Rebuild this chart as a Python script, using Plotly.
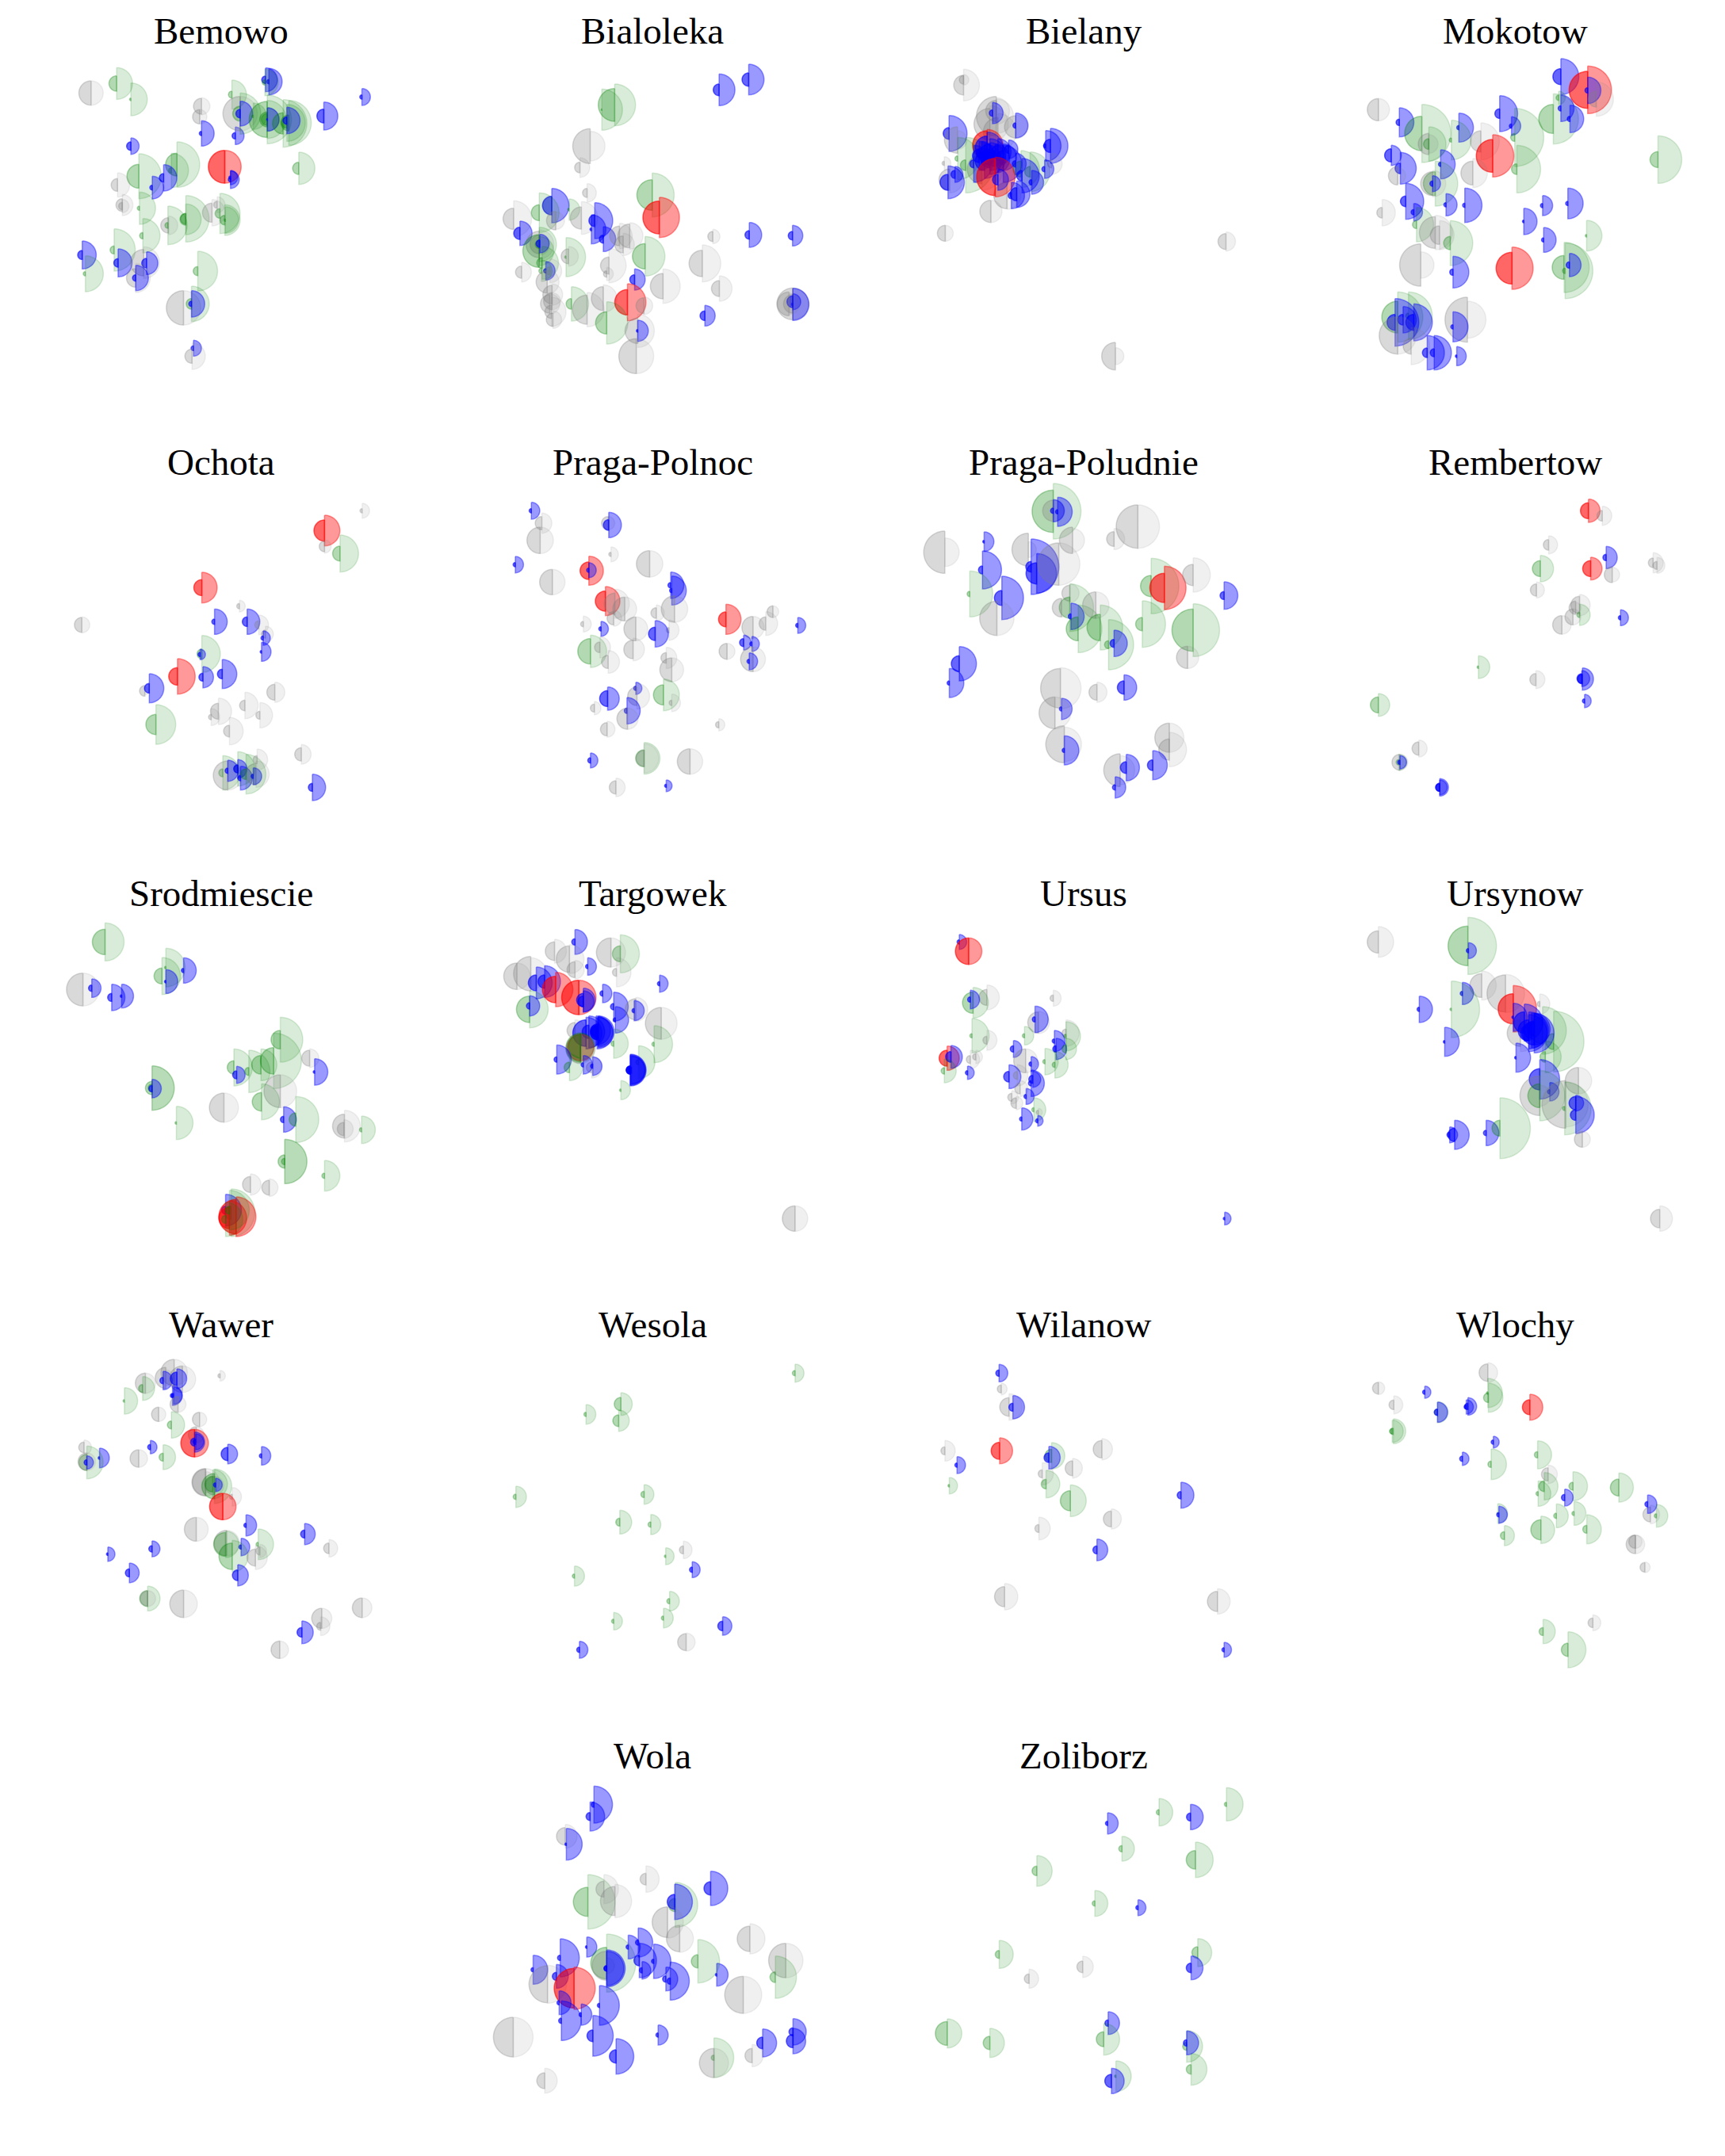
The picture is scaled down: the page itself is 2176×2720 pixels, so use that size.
import numpy as np
import plotly.graph_objects as go
from plotly.subplots import make_subplots

# each row: easting, northing, left radius, right radius, category (per panel map units)
BEMOWO = [
    (320,352,46,46,"n"),(410,316,29,60,"g"),(460,376,5,62,"g"),(933,302,14,45,"b"),(945,309,8,50,"b"),
    (931,312,10,50,"g"),(1272,367,8,32,"b"),(1138,439,26,53,"b"),(815,358,13,55,"g"),(708,402,30,32,"n"),
    (702,442,27,27,"n"),(708,505,8,48,"b"),(827,514,12,33,"b"),(844,430,65,65,"n"),(844,430,28,78,"g"),
    (844,430,16,47,"b"),(890,440,5,50,"g"),(939,452,68,92,"g"),(939,452,28,45,"g"),(939,452,22,72,"g"),
    (940,452,3,44,"b"),(995,467,40,90,"g"),(1015,465,30,85,"g"),(1008,465,20,70,"g"),(1008,456,14,50,"b"),
    (790,631,62,62,"r"),(810,680,8,33,"b"),(810,672,6,27,"b"),
    (1050,637,23,61,"g"),(460,553,16,31,"b"),(622,623,43,86,"g"),(602,645,10,65,"g"),(488,667,45,85,"g"),
    (575,673,16,50,"b"),(535,710,9,43,"b"),(413,700,24,46,"n"),(490,788,8,61,"g"),(430,776,24,40,"n"),
    (430,780,14,25,"n"),(592,853,29,35,"n"),(590,853,11,73,"g"),(653,828,20,88,"g"),(653,830,22,58,"g"),
    (745,805,36,50,"n"),(763,775,13,30,"n"),(773,808,18,76,"g"),(790,833,18,58,"g"),(792,833,5,50,"g"),
    (502,892,12,65,"g"),(401,946,15,80,"g"),(289,965,17,53,"b"),(300,1036,8,68,"g"),(415,995,16,53,"b"),
    (505,994,50,60,"n"),(515,996,18,43,"b"),(477,1052,35,55,"n"),(477,1052,12,48,"b"),(695,1026,17,75,"g"),
    (645,1165,65,65,"n"),(673,1150,20,67,"g"),(673,1150,10,50,"b"),(680,1318,9,30,"b"),(675,1348,27,50,"n"),
]
BIALOLEKA = [
    (600,397,62,79,"g"),(555,415,3,78,"g"),(967,340,22,60,"b"),(1071,301,25,58,"b"),(514,553,66,56,"n"),
    (478,634,20,37,"n"),(503,730,17,35,"n"),(732,738,58,83,"g"),(757,823,62,76,"r"),(945,895,19,27,"n"),
    (1073,889,16,47,"b"),(1225,892,16,39,"b"),(908,997,50,70,"n"),(968,1092,30,48,"n"),(917,1195,18,39,"b"),
    (1226,1150,60,60,"n"),(1226,1150,35,60,"n"),(1226,1152,5,61,"b"),(1226,1142,22,30,"b"),(1213,1150,45,40,"n"),
    (379,778,35,65,"b"),(335,805,30,75,"g"),(245,828,40,68,"n"),(440,793,5,40,"g"),(483,825,42,62,"n"),
    (393,835,35,33,"n"),(530,835,22,68,"b"),(518,868,5,55,"b"),(560,905,15,47,"b"),(267,883,23,46,"b"),
    (617,893,37,48,"n"),(653,893,45,50,"n"),(630,925,32,42,"n"),(707,970,48,75,"g"),(429,973,5,74,"g"),
    (438,970,28,37,"n"),(335,925,50,55,"n"),(335,925,35,40,"n"),(335,950,62,55,"g"),(335,925,15,65,"g"),
    (337,922,14,35,"b"),(345,995,20,62,"g"),(580,1005,32,65,"n"),(572,1037,12,25,"n"),(358,1025,8,35,"b"),
    (372,1025,15,45,"n"),(343,1025,10,40,"g"),(273,1030,23,37,"n"),(670,1058,18,40,"b"),(770,1083,48,65,"n"),
    (363,1067,42,45,"n"),(380,1115,35,40,"n"),(380,1140,32,32,"n"),(372,1150,35,38,"n"),(378,1180,25,55,"n"),
    (383,1210,25,33,"n"),(448,1150,20,65,"g"),(503,1172,55,65,"n"),(560,1130,45,52,"n"),(645,1144,48,70,"r"),
    (703,1157,30,33,"n"),(572,1222,42,80,"g"),(681,1252,48,63,"n"),(681,1252,5,40,"b"),(676,1348,66,66,"n"),
]
BIELANY = [
    (141,322,37,60,"n"),(141,302,16,20,"n"),(202,440,75,65,"n"),(202,420,40,50,"n"),(190,470,60,70,"n"),
    (205,500,55,70,"n"),(195,428,12,40,"b"),(238,480,42,45,"n"),(238,475,10,47,"b"),(114,505,22,68,"b"),
    (130,530,50,35,"n"),(303,552,25,66,"b"),(294,552,8,58,"b"),(185,550,55,60,"r"),(175,640,55,80,"n"),
    (145,625,20,105,"g"),(130,600,10,80,"g"),(185,560,45,60,"b"),(190,585,40,60,"b"),(175,580,20,45,"b"),
    (205,575,25,50,"b"),(225,565,15,35,"b"),(190,600,35,60,"b"),(180,610,35,65,"b"),(200,600,30,55,"b"),
    (170,590,25,55,"b"),(215,595,25,50,"b"),(115,680,40,50,"n"),(112,690,30,62,"b"),(125,660,15,30,"b"),
    (105,618,8,25,"n"),(160,620,15,70,"b"),(215,620,25,70,"b"),(248,640,30,70,"g"),(265,650,20,75,"g"),
    (222,740,50,52,"n"),(238,620,12,40,"b"),(250,665,20,65,"b"),(200,670,70,75,"r"),(205,680,20,40,"b"),
    (268,690,10,45,"b"),(240,735,25,50,"b"),(230,740,12,50,"b"),(305,620,15,40,"n"),(292,640,10,35,"b"),
    (192,800,42,42,"n"),(107,883,30,30,"n"),(630,914,30,36,"n"),(424,1348,52,32,"n"),
]
MOKOTOW = [
    (1254,290,30,68,"b"),(1304,340,70,90,"r"),(1304,342,10,50,"b"),(1320,375,30,65,"n"),(914,415,42,42,"n"),
    (953,463,12,55,"b"),(995,505,65,110,"g"),(1064,483,8,55,"b"),(1050,530,8,75,"g"),(1008,545,40,35,"n"),
    (1008,545,20,65,"g"),(1140,430,18,68,"b"),(1162,477,8,35,"b"),(1168,520,15,110,"g"),(1172,640,20,90,"g"),
    (1240,450,55,95,"g"),(1250,370,10,25,"g"),(1254,410,10,50,"b"),(1271,450,10,52,"b"),(1105,535,40,70,"n"),
    (1127,590,62,80,"r"),(1435,604,30,90,"g"),(938,588,25,38,"b"),(955,637,20,60,"b"),(1030,622,8,55,"b"),
    (950,665,35,30,"n"),(1090,655,45,55,"n"),(1020,695,45,85,"g"),(1015,695,45,50,"n"),(1015,695,10,30,"b"),
    (965,762,20,68,"b"),(980,803,10,33,"b"),(1040,775,8,42,"b"),(1075,777,8,65,"b"),(1220,778,8,38,"b"),
    (1267,770,8,58,"b"),(1185,838,5,50,"b"),(1222,908,8,47,"b"),(1302,892,5,58,"g"),(921,805,20,50,"n"),
    (985,850,15,65,"g"),(1020,880,60,65,"n"),(1028,890,35,55,"n"),(1048,920,25,85,"g"),(993,1003,80,50,"n"),
    (1053,1030,12,60,"b"),(1163,1015,60,80,"r"),(1260,1012,45,95,"g"),(1262,1025,10,105,"g"),(1270,1003,12,44,"b"),
    (950,1200,60,95,"g"),(970,1195,10,90,"g"),(945,1220,30,90,"b"),(980,1220,30,70,"b"),(960,1210,20,50,"b"),
    (950,1270,70,70,"n"),(975,1310,30,70,"n"),(1080,1210,85,70,"n"),(1053,1237,8,57,"b"),(1005,1335,18,65,"b"),
    (1018,1335,15,65,"b"),(1060,1348,5,36,"b"),
]
OCHOTA = [
    (655,313,8,28,"n"),(587,388,40,58,"r"),(587,448,20,25,"n"),(615,475,28,70,"g"),(365,604,30,58,"r"),
    (433,674,10,22,"n"),(388,733,10,48,"b"),(447,733,18,48,"b"),(468,745,15,37,"n"),(480,780,15,30,"n"),
    (476,795,8,27,"b"),(473,847,5,36,"b"),(148,745,28,30,"n"),(365,855,18,70,"g"),(362,857,8,20,"b"),
    (321,940,33,67,"r"),(367,943,15,40,"b"),(402,931,18,55,"b"),(262,995,20,15,"n"),(270,985,18,55,"b"),
    (497,1000,30,38,"n"),(443,1050,20,50,"n"),(470,1087,15,48,"n"),(395,1072,30,50,"n"),(382,1094,10,32,"n"),
    (415,1147,22,52,"n"),(282,1122,38,75,"g"),(545,1235,25,37,"n"),(403,1305,15,65,"g"),(412,1315,55,55,"n"),
    (430,1290,15,65,"g"),(430,1290,15,35,"b"),(412,1297,10,40,"b"),(435,1325,10,45,"b"),(463,1310,40,50,"n"),
    (458,1318,8,32,"b"),(445,1310,20,75,"g"),(465,1255,15,40,"n"),(565,1360,15,50,"b"),
]
PRAGA_POLNOC = [
    (961,313,8,32,"b"),(980,360,25,38,"n"),(977,425,50,50,"n"),(1100,360,25,25,"n"),(1101,367,20,48,"b"),
    (1105,478,8,28,"n"),(932,517,8,31,"b"),(1175,514,50,50,"n"),(999,583,48,48,"n"),(1065,540,33,55,"r"),
    (1065,538,8,28,"b"),(1095,655,38,55,"r"),(1112,665,40,55,"n"),(1130,685,45,45,"n"),(1213,595,10,50,"b"),
    (1215,615,8,55,"b"),(1220,685,50,50,"n"),(1187,700,20,30,"n"),(1110,720,25,30,"n"),(1055,742,10,30,"n"),
    (1087,760,8,28,"b"),(1150,760,45,45,"n"),(1210,765,10,38,"n"),(1185,779,25,50,"b"),(1313,724,28,57,"r"),
    (1362,755,42,42,"n"),(1385,740,25,45,"n"),(1398,695,22,22,"n"),(1443,747,8,30,"b"),(1345,812,15,28,"b"),
    (1360,817,8,28,"b"),(1315,845,30,30,"n"),(1362,875,47,47,"n"),(1355,883,8,32,"b"),(1068,845,48,61,"g"),
    (1085,830,20,40,"n"),(1100,885,25,43,"n"),(1145,838,35,43,"n"),(1205,870,20,40,"n"),(1215,915,45,45,"n"),
    (1099,1024,30,44,"b"),(1150,985,8,23,"b"),(1152,1015,35,48,"n"),(1200,1010,38,60,"g"),(1215,1040,10,33,"n"),
    (1134,1070,10,50,"b"),(1135,1100,40,40,"n"),(1075,1060,15,25,"n"),(1098,1140,25,30,"n"),(1300,1123,12,23,"n"),
    (1068,1258,10,28,"b"),(1165,1250,32,60,"g"),(1165,1250,30,55,"n"),(1248,1262,48,48,"n"),(1114,1360,25,35,"n"),
    (1205,1354,6,22,"b"),
]
PRAGA_POLUDNIE = [
    (345,315,80,105,"g"),(345,313,40,40,"n"),(345,313,10,42,"b"),(353,317,8,55,"b"),(149,470,80,54,"n"),
    (498,373,82,82,"n"),(380,425,50,45,"n"),(455,420,28,40,"n"),(220,430,5,37,"b"),(217,537,15,72,"b"),
    (300,460,62,30,"n"),(305,525,20,105,"b"),(315,550,40,75,"b"),(355,515,80,80,"n"),(194,628,10,87,"g"),
    (252,643,28,82,"b"),(243,720,65,65,"n"),(375,625,30,35,"n"),(375,680,40,90,"g"),(377,713,10,50,"b"),
    (390,760,45,90,"g"),(360,680,35,35,"n"),(422,670,50,50,"n"),(430,755,50,85,"g"),(445,820,15,95,"g"),
    (455,815,15,50,"b"),(522,598,40,105,"g"),(546,605,55,82,"r"),(598,556,40,65,"n"),(506,742,25,88,"g"),
    (598,765,80,100,"g"),(588,868,42,42,"n"),(654,634,15,52,"b"),(175,892,30,65,"b"),(157,965,8,55,"b"),
    (358,985,75,78,"n"),(424,1000,30,38,"n"),(473,982,25,48,"b"),(360,1063,8,40,"b"),(348,1078,60,60,"n"),
    (365,1197,70,65,"n"),(365,1220,8,55,"b"),(555,1172,55,55,"n"),(555,1217,40,65,"n"),(466,1295,62,55,"n"),
    (477,1285,22,50,"b"),(525,1276,20,55,"b"),(457,1360,10,40,"b"),
]
REMBERTOW = [
    (1313,313,30,44,"r"),(1338,332,20,36,"n"),(1241,442,20,34,"n"),(1345,490,12,42,"b"),(1430,510,18,38,"n"),
    (1437,520,15,30,"n"),(1226,532,30,50,"g"),(1317,532,30,43,"r"),(1356,555,30,28,"n"),(1219,613,23,30,"n"),
    (1297,670,33,40,"n"),(1290,680,25,20,"n"),(1297,707,10,40,"g"),(1285,715,30,30,"n"),(1265,745,35,35,"n"),
    (1371,718,8,30,"b"),(1114,905,5,43,"g"),(1218,952,23,34,"n"),(1302,950,18,42,"b"),(1301,948,18,30,"b"),
    (1306,1033,8,25,"b"),(933,1048,30,43,"g"),(1006,1213,25,32,"n"),(972,1265,30,30,"n"),(970,1265,10,30,"g"),
    (972,1265,8,25,"b"),(1044,1360,15,33,"b"),(1044,1360,15,28,"b"),
]
SRODMIESCIE = [
    (190,295,48,72,"g"),(300,392,5,73,"g"),(293,424,30,70,"g"),(300,445,5,45,"b"),(332,403,8,48,"b"),
    (150,475,62,62,"n"),(166,470,12,35,"b"),(202,505,15,50,"b"),(220,500,5,45,"b"),(275,848,25,84,"g"),
    (275,848,15,84,"g"),(275,850,12,35,"b"),(319,980,5,63,"g"),(405,922,55,55,"n"),(423,770,25,70,"g"),
    (428,798,15,32,"b"),(450,785,15,80,"g"),(472,760,35,60,"g"),(507,665,35,85,"g"),(495,745,50,105,"g"),
    (507,860,62,62,"n"),(560,735,30,35,"n"),(569,787,5,50,"b"),(473,900,35,68,"g"),(513,967,12,48,"b"),
    (535,967,25,87,"g"),(623,992,45,60,"n"),(622,1003,25,35,"n"),(654,1006,8,52,"g"),(515,1126,25,84,"g"),
    (515,1126,12,84,"g"),(587,1180,10,58,"g"),(453,1213,30,40,"n"),(487,1225,28,33,"n"),(418,1320,25,90,"g"),
    (408,1310,15,60,"b"),(427,1335,65,75,"r"),(415,1340,40,65,"r"),(408,1345,15,65,"g"),(415,1310,15,75,"g"),
]
TARGOWEK = [
    (1040,295,12,47,"b"),(1003,330,35,45,"n"),(1030,360,50,55,"n"),(1122,340,30,72,"g"),(1105,335,55,55,"n"),
    (1115,410,15,55,"n"),(935,425,50,50,"n"),(960,415,65,60,"n"),(985,445,25,60,"b"),(970,450,30,60,"b"),
    (1040,400,30,35,"n"),(1063,388,8,33,"b"),(1005,475,50,65,"r"),(1047,505,65,65,"r"),(1055,515,25,45,"b"),
    (1055,520,20,40,"b"),(1090,490,10,35,"b"),(1110,540,12,55,"b"),(1113,590,8,50,"b"),(1150,550,40,45,"n"),
    (1147,555,8,38,"b"),(1193,453,8,32,"b"),(1196,603,60,60,"n"),(1183,682,8,70,"g"),(958,550,50,70,"g"),
    (958,537,12,38,"b"),(1110,680,10,55,"g"),(1040,630,30,40,"n"),(1065,635,25,60,"b"),(1060,640,50,60,"b"),
    (1082,635,25,55,"b"),(1082,635,30,60,"b"),(1080,640,25,60,"b"),(1078,630,20,55,"b"),(1050,695,50,50,"r"),
    (1050,700,55,55,"n"),(1050,695,55,55,"g"),(1050,690,45,50,"g"),(1007,740,10,55,"b"),(1030,770,20,50,"g"),
    (1070,770,20,40,"n"),(1055,760,8,35,"b"),(1072,765,8,35,"b"),(1155,750,10,62,"g"),(1140,780,15,60,"b"),
    (1140,780,15,55,"b"),(1140,780,15,58,"b"),(1142,780,12,52,"b"),(1123,856,5,36,"g"),(1438,1342,48,48,"n"),
]
URSUS = [
    (175,295,8,28,"b"),(192,330,50,50,"r"),(225,505,30,47,"n"),(200,525,40,58,"g"),(195,513,10,35,"b"),
    (345,508,12,30,"n"),(318,600,40,42,"n"),(312,588,10,50,"b"),(198,650,8,65,"g"),(225,667,15,38,"n"),
    (293,650,8,35,"g"),(368,640,15,50,"n"),(347,670,8,40,"b"),(368,652,8,55,"g"),(350,700,12,40,"b"),
    (368,700,15,40,"g"),(273,700,12,32,"b"),(330,748,8,50,"g"),(348,760,10,50,"g"),(295,745,45,45,"n"),
    (305,757,8,28,"b"),(153,735,30,46,"r"),(160,730,20,43,"b"),(195,740,15,35,"n"),(205,730,12,25,"n"),
    (148,783,12,45,"g"),(190,790,8,25,"b"),(265,805,20,45,"b"),(280,800,15,40,"n"),(305,830,10,50,"b"),
    (308,815,15,30,"b"),(285,850,20,30,"n"),(296,880,8,30,"b"),(270,883,15,25,"n"),(278,905,20,25,"n"),
    (310,930,8,45,"g"),(318,940,8,15,"n"),(288,965,8,42,"b"),(317,972,8,20,"b"),(655,1342,5,24,"b"),
]
URSYNOW = [
    (933,295,42,58,"n"),(1095,310,75,108,"g"),(1096,328,8,30,"b"),(1120,460,45,55,"n"),(1163,490,70,72,"n"),
    (1085,490,8,42,"b"),(1007,550,8,50,"b"),(1065,550,5,107,"g"),(1177,548,57,88,"r"),(1053,673,5,55,"b"),
    (1225,530,10,38,"n"),(1190,640,50,70,"n"),(1230,630,50,90,"g"),(1250,672,30,115,"g"),(1235,730,20,60,"g"),
    (1177,580,5,53,"b"),(1197,600,40,70,"b"),(1205,630,40,70,"b"),(1215,640,45,75,"b"),(1210,630,30,65,"b"),
    (1215,625,25,60,"b"),(1205,640,30,70,"b"),(1182,733,5,55,"b"),
    (1225,815,40,75,"b"),(1295,820,50,50,"n"),(1243,862,8,35,"b"),(1225,877,75,40,"n"),(1225,877,45,95,"g"),
    (1272,910,90,85,"n"),(1270,925,8,100,"g"),(1290,905,25,30,"b"),(1290,950,20,70,"b"),(1302,1042,30,30,"n"),
    (1071,1025,25,55,"b"),(1062,1025,10,30,"b"),(1128,1018,10,48,"b"),(1153,1000,30,115,"g"),(1442,1342,35,48,"n"),
]
WAWER = [
    (315,275,50,50,"n"),(300,295,40,30,"n"),(295,305,12,35,"b"),(330,300,50,50,"n"),(320,298,25,37,"b"),
    (263,315,38,38,"n"),(258,335,15,45,"g"),(225,382,5,50,"g"),(312,362,8,37,"b"),(314,362,8,32,"b"),
    (322,395,30,30,"n"),(287,433,27,27,"n"),(361,452,27,27,"n"),(310,473,15,50,"g"),(398,287,8,20,"n"),
    (152,558,20,28,"n"),(272,557,10,25,"b"),(355,510,30,30,"n"),(352,542,52,52,"r"),(352,538,15,38,"b"),
    (354,537,10,30,"b"),(180,598,5,37,"b"),(251,600,33,33,"n"),(295,595,15,47,"g"),(412,583,25,37,"b"),
    (473,590,8,35,"b"),(157,615,30,62,"g"),(157,612,33,33,"n"),(157,615,10,25,"b"),(372,690,52,52,"n"),
    (372,690,50,40,"n"),(388,703,35,35,"n"),(388,705,48,65,"g"),(385,697,30,55,"g"),(390,700,8,25,"b"),
    (420,745,10,35,"n"),(403,782,50,50,"r"),(355,868,45,45,"n"),(445,853,8,40,"b"),(551,886,15,40,"b"),
    (595,940,20,33,"n"),(436,935,8,33,"b"),(467,925,8,58,"g"),(410,920,48,48,"n"),(408,925,45,50,"g"),
    (420,970,50,60,"g"),(462,975,32,45,"n"),(470,950,15,25,"n"),(195,962,5,27,"b"),(275,942,12,30,"b"),
    (234,1033,15,37,"b"),(430,1042,20,40,"b"),(267,1130,30,47,"g"),(267,1130,28,30,"n"),(332,1150,52,52,"n"),
    (655,1165,37,37,"n"),(582,1205,38,38,"n"),(580,1235,15,35,"n"),(546,1258,18,43,"b"),(506,1324,33,33,"n"),
]
WESOLA = [
    (1438,277,10,34,"g"),(1123,394,25,43,"g"),(1060,433,8,37,"g"),(1119,457,22,40,"g"),(933,745,10,40,"g"),
    (1165,736,12,37,"g"),(1121,841,15,45,"g"),(1177,850,10,38,"g"),(1236,946,15,33,"n"),(1204,970,5,32,"g"),
    (1252,1021,10,30,"b"),(1039,1045,8,38,"g"),(1211,1140,10,37,"g"),(1110,1216,8,33,"g"),(1200,1204,8,37,"g"),
    (1307,1234,18,35,"b"),(1241,1295,32,34,"n"),(1048,1324,10,32,"b"),
]
WILANOW = [
    (247,277,12,33,"b"),(251,337,15,22,"n"),(265,405,35,50,"n"),(272,406,15,44,"b"),(248,571,32,49,"r"),
    (149,571,15,39,"n"),(171,625,8,32,"b"),(157,703,5,31,"g"),(342,590,25,50,"g"),(337,597,18,43,"b"),
    (433,565,33,40,"n"),(380,637,28,37,"n"),(325,658,15,42,"n"),(332,697,18,52,"g"),(376,760,38,60,"g"),
    (576,739,14,49,"b"),(450,829,30,38,"n"),(319,865,15,43,"n"),(424,946,15,41,"b"),(257,1123,38,50,"n"),
    (642,1141,38,48,"n"),(654,1324,8,28,"b"),
]
WLOCHY = [
    (1131,275,33,37,"n"),(933,334,22,24,"n"),(1017,349,8,23,"b"),(961,397,18,34,"n"),(1040,425,12,40,"g"),
    (1040,425,12,38,"b"),(1095,403,12,33,"b"),(1092,405,8,27,"b"),(1131,352,5,55,"g"),(1132,370,18,55,"g"),
    (1207,406,28,49,"r"),(960,497,12,47,"g"),(958,497,10,42,"g"),(1141,538,8,22,"b"),(1085,601,10,25,"b"),
    (1137,622,12,58,"g"),(1221,586,12,53,"g"),(1240,660,25,35,"n"),(1233,705,20,52,"g"),(1222,733,8,48,"g"),
    (1285,705,15,55,"g"),(1368,710,32,55,"g"),(1270,748,12,32,"b"),(1287,808,8,45,"g"),(1255,817,10,45,"g"),
    (1149,808,3,37,"g"),(1151,813,8,32,"b"),(1227,870,38,52,"g"),(1161,892,15,38,"g"),(1310,868,15,55,"g"),
    (1425,812,28,35,"n"),(1420,773,10,35,"b"),(1436,817,8,43,"g"),(1398,925,35,35,"n"),(1398,915,25,25,"n"),
    (1415,1012,18,20,"n"),(1321,1222,18,30,"n"),(1231,1255,15,46,"g"),(1276,1324,25,68,"g"),
]
WOLA = [
    (300,290,10,70,"b"),(293,335,15,55,"b"),(248,410,33,45,"n"),(250,440,5,60,"b"),(289,658,55,103,"g"),
    (318,610,30,55,"n"),(338,655,55,63,"n"),(394,572,22,50,"n"),(511,607,25,65,"b"),(447,670,25,85,"g"),
    (446,658,28,67,"b"),(433,735,58,60,"n"),(455,797,50,52,"n"),(582,798,48,57,"n"),(287,829,5,38,"b"),
    (323,890,60,110,"g"),(323,900,55,30,"n"),(323,910,10,70,"b"),(323,910,10,65,"b"),(239,870,10,72,"b"),
    (190,915,8,55,"b"),(362,829,8,45,"b"),(380,812,10,55,"b"),(382,880,20,65,"b"),(408,883,8,65,"b"),
    (387,917,10,33,"b"),(522,934,5,43,"b"),(430,950,12,45,"b"),(438,958,12,72,"b"),(488,883,25,82,"g"),
    (647,880,65,65,"n"),(628,943,20,80,"g"),(570,1010,70,70,"n"),(216,970,70,72,"n"),(232,940,15,45,"b"),
    (264,985,75,80,"r"),(237,1040,8,45,"b"),(310,1050,8,75,"b"),(277,1085,8,40,"b"),(241,1108,10,75,"b"),
    (298,1165,22,77,"b"),(340,1243,25,67,"b"),(416,1162,8,38,"b"),(154,1170,75,75,"n"),(605,1192,22,53,"b"),
    (660,1150,15,50,"b"),(660,1185,25,48,"b"),(517,1248,10,75,"g"),(517,1268,55,55,"n"),(586,1240,27,42,"n"),
    (211,1335,30,47,"n"),
]
ZOLIBORZ = [
    (1229,361,8,40,"b"),(1322,319,10,52,"g"),(1379,337,15,48,"b"),(1444,289,8,63,"g"),(1255,457,12,47,"g"),
    (1388,499,35,67,"g"),(1101,541,18,58,"g"),(1206,664,10,49,"g"),(1284,680,8,30,"b"),(1033,857,15,53,"g"),
    (1392,850,22,53,"g"),(1184,904,22,40,"n"),(1380,908,18,45,"b"),(1087,949,18,36,"n"),(939,1156,45,55,"g"),
    (1016,1192,25,55,"g"),(1230,1117,12,43,"b"),(1222,1178,28,60,"g"),(1372,1205,15,60,"g"),(1372,1192,12,45,"b"),
    (1380,1292,18,60,"g"),(1244,1318,5,58,"g"),(1236,1336,25,48,"b"),
]

DISTRICTS = ["Bemowo", "Bialoleka", "Bielany", "Mokotow", "Ochota", "Praga-Polnoc", "Praga-Poludnie", "Rembertow",
             "Srodmiescie", "Targowek", "Ursus", "Ursynow", "Wawer", "Wesola", "Wilanow", "Wlochy", "Wola", "Zoliborz"]
POINTS = [BEMOWO, BIALOLEKA, BIELANY, MOKOTOW, OCHOTA, PRAGA_POLNOC, PRAGA_POLUDNIE, REMBERTOW,
          SRODMIESCIE, TARGOWEK, URSUS, URSYNOW, WAWER, WESOLA, WILANOW, WLOCHY, WOLA, ZOLIBORZ]
ROWS = [1, 1, 1, 1, 2, 2, 2, 2, 3, 3, 3, 3, 4, 4, 4, 4, 5, 5]
COLS = [1, 2, 3, 4, 1, 2, 3, 4, 1, 2, 3, 4, 1, 2, 3, 4, 2, 3]
X_START = [0, -44.6, -47.3, 756.3, 0, 780, 0, 780, 0, 780, 0, 780, 0, 780, 0, 780, 5.7, 785.7]
X_SPAN = [1515.6, 1515.6, 803.6, 803.6] + [780] * 14
Y_START = [0, 0, 0, 0, 12, 12, 12, 12, -6, -6, -6, -6, -24, -24, -24, -24, -12, -12]
Y_SPAN = 1632
CELL = 544
BODY_MARGIN = 8  # the page puts the figure 8px in from the corner

RGB = {"r": "255,0,0", "b": "0,0,255", "g": "0,128,0", "n": "128,128,128"}
LEFT_ALPHA = {"r": 0.6, "b": 0.6, "g": 0.3, "n": 0.3}
RIGHT_ALPHA = {"r": 0.4, "b": 0.4, "g": 0.15, "n": 0.12}
ANGLES = np.linspace(-np.pi / 2, np.pi / 2, 41)


def half_disc(x, y, r, side, xscale):
    xs = x + side * r * xscale * np.cos(ANGLES)
    ys = y + r * np.sin(ANGLES)
    return np.append(xs, xs[0]), np.append(ys, ys[0])


fig = make_subplots(
    rows=5, cols=4,
    specs=[[{}, {}, {}, {}]] * 4 + [[None, {}, {}, None]],
    horizontal_spacing=0, vertical_spacing=0,
)

for i, name in enumerate(DISTRICTS):
    row, col = ROWS[i], COLS[i]
    xscale = X_SPAN[i] / Y_SPAN
    x0 = X_START[i] + BODY_MARGIN * X_SPAN[i] / CELL
    y0 = Y_START[i] + BODY_MARGIN * Y_SPAN / CELL
    for x, y, rl, rr, c in POINTS[i]:
        for side, r, alpha in ((-1, rl, LEFT_ALPHA[c]), (1, rr, RIGHT_ALPHA[c])):
            xs, ys = half_disc(x, y, r, side, xscale)
            color = "rgba(%s,%s)" % (RGB[c], alpha)
            fig.add_trace(go.Scatter(
                x=xs, y=ys, mode="lines", fill="toself", fillcolor=color,
                line=dict(color=color, width=1.5, simplify=False), hoverinfo="skip", showlegend=False,
            ), row=row, col=col)
    fig.update_xaxes(range=[x0, x0 + X_SPAN[i]], visible=False, row=row, col=col)
    fig.update_yaxes(range=[y0 + Y_SPAN, y0], visible=False, row=row, col=col)
    fig.add_annotation(
        text=name, xref="paper", yref="paper",
        x=((col - 1) * CELL + 279 - BODY_MARGIN) / 2176, y=1 - ((row - 1) * CELL + 39 - BODY_MARGIN) / 2720,
        showarrow=False, xanchor="center", yanchor="middle",
        font=dict(family="Liberation Serif", size=47, color="black"),
    )

fig.update_layout(
    width=2176, height=2720, margin=dict(l=0, r=0, t=0, b=0),
    plot_bgcolor="white", paper_bgcolor="white",
)
fig.write_html("out.html")
